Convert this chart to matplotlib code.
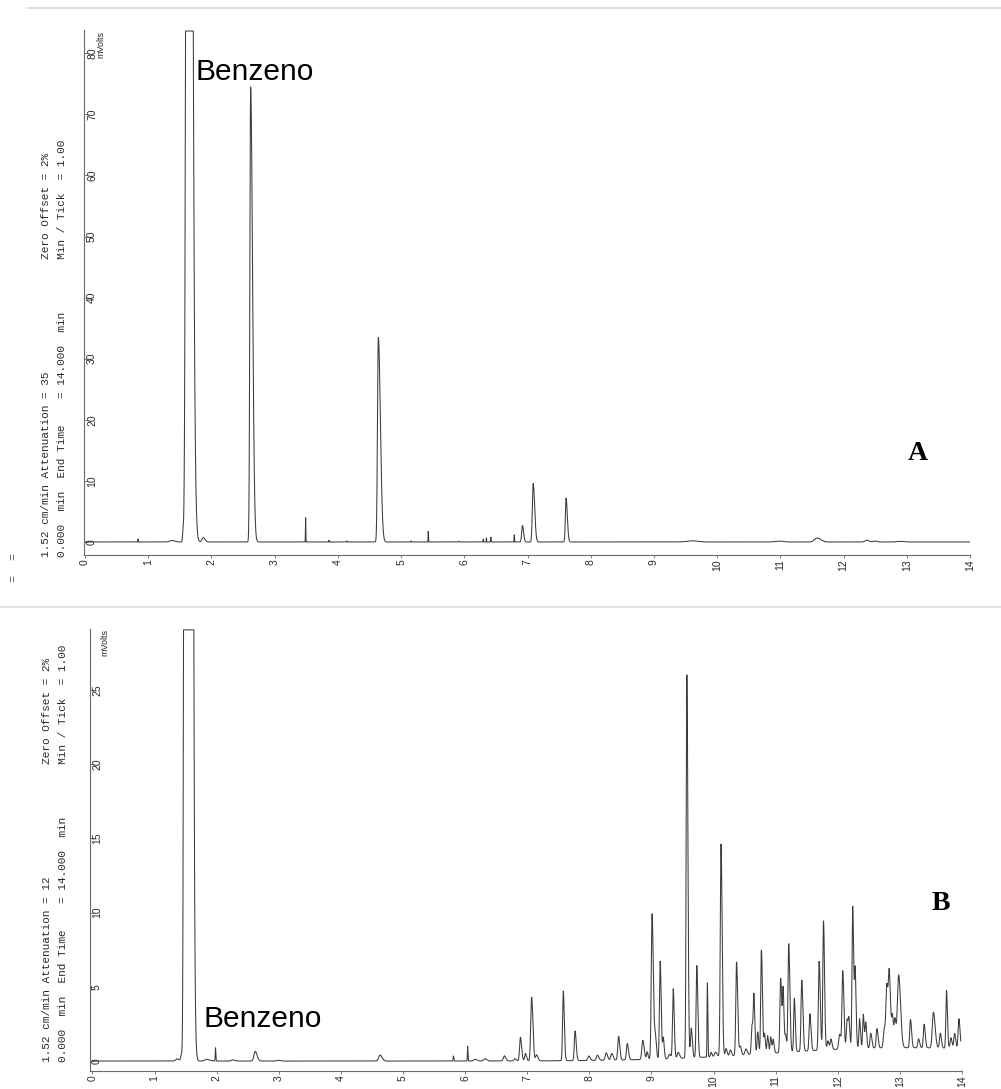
import numpy as np
import matplotlib
matplotlib.use("Agg")
import matplotlib.pyplot as plt
from matplotlib.lines import Line2D
from matplotlib.transforms import blended_transform_factory

W, H = 1001, 1089

# ---------------- Chromatogram A (Attenuation = 35) ----------------
# retention time (min), apex height (mV), peak sigma (min), tailing factor
a_time   = [0.84, 1.38, 1.55, 1.63, 1.87, 2.62, 3.49, 3.86, 4.14, 4.64, 5.16, 5.43,
            5.92, 6.30, 6.35, 6.42, 6.79, 6.92, 7.09, 7.61, 9.60, 10.98, 11.58,
            12.37, 12.50, 12.90]
a_height = [0.5, 0.25, 1.4, 500.0, 0.7, 74.5, 4.0, 0.3, 0.2, 33.5, 0.2, 1.8,
            0.1, 0.5, 0.7, 0.8, 1.2, 2.7, 9.6, 7.2, 0.2, 0.15, 0.65,
            0.3, 0.15, 0.1]
a_sigma  = [0.003, 0.04, 0.008, 0.022, 0.02, 0.012, 0.003, 0.003, 0.003, 0.013, 0.003, 0.003,
            0.01, 0.003, 0.003, 0.003, 0.003, 0.012, 0.013, 0.011, 0.08, 0.06, 0.04,
            0.03, 0.03, 0.05]
a_tail   = [1.0, 1.0, 1.0, 2.0, 1.5, 2.5, 1.0, 1.0, 1.0, 2.5, 1.0, 1.0,
            1.0, 1.0, 1.0, 1.0, 1.0, 1.5, 1.8, 1.8, 1.0, 1.0, 1.5,
            1.0, 1.0, 1.0]
a_yticks = [0, 10, 20, 30, 40, 50, 60, 70, 80]

# ---------------- Chromatogram B (Attenuation = 12) ----------------
b_time = [1.36, 1.43, 1.52, 1.84, 1.98, 2.26, 2.62, 2.99, 4.63, 5.81, 6.04,
          6.16, 6.32, 6.63, 6.80, 6.89, 6.97, 7.07, 7.15, 7.58, 7.77, 7.99,
          8.13, 8.27, 8.36, 8.47, 8.61, 8.86, 8.93, 9.01, 9.06, 9.14, 9.19,
          9.29, 9.35, 9.43, 9.57, 9.64, 9.73, 9.90, 9.96, 10.03, 10.12, 10.20,
          10.27, 10.37, 10.43, 10.52, 10.62, 10.65, 10.71, 10.77, 10.82, 10.87,
          10.92, 10.96, 11.08, 11.12, 11.16, 11.21, 11.30, 11.42, 11.55, 11.70,
          11.77, 11.84, 11.89, 12.03, 12.08, 12.15, 12.18, 12.24, 12.28, 12.35,
          12.41, 12.45, 12.53, 12.63, 12.75, 12.79, 12.83, 12.88, 12.92, 12.98,
          13.17, 13.30, 13.39, 13.54, 13.65, 13.75, 13.82, 13.88, 13.95, 13.00]
b_height = [0.15, 0.35, 1500.0, 0.12, 0.9, 0.08, 0.65, 0.05, 0.4, 0.35, 1.0,
            0.12, 0.15, 0.35, 0.15, 1.6, 0.5, 4.3, 0.4, 4.7, 2.0, 0.3,
            0.35, 0.5, 0.45, 1.6, 1.1, 1.3, 0.5, 9.8, 1.6, 6.6, 1.4,
            0.3, 4.7, 0.4, 25.8, 2.0, 6.2, 5.0, 0.3, 0.3, 14.3, 0.5,
            0.4, 6.3, 0.6, 0.4, 2.0, 3.6, 1.5, 7.0, 1.3, 1.2,
            1.1, 0.9, 5.0, 4.0, 1.1, 7.3, 3.6, 4.8, 2.5, 6.0,
            8.7, 0.6, 0.7, 1.0, 5.2, 2.0, 1.6, 9.6, 5.0, 2.0,
            2.3, 1.7, 1.0, 1.3, 1.3, 4.0, 4.6, 2.0, 1.8, 4.9,
            1.9, 0.6, 1.6, 2.4, 1.0, 3.9, 0.7, 1.0, 2.0, 0.9]
b_sigma = [0.02, 0.012, 0.02, 0.03, 0.004, 0.02, 0.02, 0.02, 0.022, 0.004, 0.004,
           0.02, 0.02, 0.015, 0.015, 0.013, 0.012, 0.014, 0.015, 0.011, 0.012, 0.015,
           0.015, 0.015, 0.015, 0.013, 0.013, 0.015, 0.01, 0.013, 0.012, 0.011, 0.01,
           0.015, 0.011, 0.015, 0.011, 0.012, 0.011, 0.005, 0.01, 0.015, 0.012, 0.012,
           0.012, 0.012, 0.012, 0.015, 0.012, 0.01, 0.01, 0.011, 0.01, 0.01,
           0.01, 0.01, 0.012, 0.01, 0.01, 0.012, 0.01, 0.012, 0.012, 0.012,
           0.011, 0.012, 0.012, 0.015, 0.012, 0.012, 0.01, 0.011, 0.01, 0.01,
           0.01, 0.01, 0.012, 0.012, 0.015, 0.014, 0.014, 0.012, 0.012, 0.02,
           0.012, 0.012, 0.012, 0.018, 0.012, 0.01, 0.012, 0.012, 0.012, 2.0]
b_yticks = [0, 5, 10, 15, 20, 25]

x_ticks = list(range(15))
END_TIME = 14.0


def chromatogram(t, times, heights, sigmas, tails=None):
    """Sum of (optionally tailing) Gaussian peaks."""
    y = np.zeros_like(t)
    if tails is None:
        tails = [1.5] * len(times)
    for t0, h, s, k in zip(times, heights, sigmas, tails):
        sd = np.where(t < t0, s, s * k)
        y += h * np.exp(-0.5 * ((t - t0) / sd) ** 2)
    return y


def fx(px):
    return px / W


def fy(py):
    return 1 - py / H


fig = plt.figure(figsize=(W / 100, H / 100), dpi=100)
fig.patch.set_facecolor("white")

# faint scan borders
fig.add_artist(Line2D([fx(28), fx(1001)], [fy(8), fy(8)], color="#dcdcdc", lw=1.5))
fig.add_artist(Line2D([fx(0), fx(1001)], [fy(607), fy(607)], color="#e2e2e2", lw=1.5))

TRACE = "#3c3c3c"
AXC = "#6a6a6a"
TXT = "#2a2a2a"
MONO = "Liberation Mono"
SANS = "Liberation Sans"


def panel(box, xlim, ylim, times, heights, sigmas, tails, yticks, ylab_px,
          mv_px, header_x, header_y, attenuation, t_end):
    left, top, right, bottom = box
    ax = fig.add_axes([fx(left), fy(bottom), fx(right) - fx(left), (bottom - top) / H])
    ax.set_xlim(*xlim)
    ax.set_ylim(*ylim)
    for s in ("top", "right"):
        ax.spines[s].set_visible(False)
    for s in ("left", "bottom"):
        ax.spines[s].set_color(AXC)
        ax.spines[s].set_linewidth(0.8)

    t = np.linspace(0, t_end, 28001)
    y = chromatogram(t, times, heights, sigmas, tails)
    y = np.minimum(y, ylim[1] - 0.002 * (ylim[1] - ylim[0]))
    ax.plot(t, y, color=TRACE, lw=0.75, solid_joinstyle="miter")

    ax.set_xticks(x_ticks)
    ax.set_xticklabels([str(v) for v in x_ticks], rotation=90, fontsize=7.5,
                       family=SANS)
    ax.tick_params(axis="x", direction="out", length=2, width=0.6, pad=1, colors=AXC,
                   labelcolor=TXT)
    ax.set_yticks(yticks)
    ax.set_yticklabels([])
    ax.tick_params(axis="y", direction="in", length=3, width=0.6, colors=AXC)

    tr = blended_transform_factory(fig.transFigure, ax.transData)
    for v in yticks:
        ax.text(fx(ylab_px), v, str(v), transform=tr, rotation=90, fontsize=7.5,
                family=SANS, ha="center", va="center", color=TXT)
    fig.text(fx(mv_px[0]), fy(mv_px[1]), "mVolts", rotation=90, fontsize=6.5,
             family=SANS, ha="center", va="center", color=TXT)

    line1 = (f"1.52 cm/min Attenuation = {attenuation}" + " " * 17
             + "Zero Offset = 2%")
    line2 = ("0.000  min  End Time    = 14.000  min" + " " * 8
             + "Min / Tick  = 1.00")
    for xx, txt in zip(header_x, (line1, line2)):
        fig.text(fx(xx), fy(header_y), txt, rotation=90, rotation_mode="anchor",
                 ha="left", va="center", fontsize=8.05, family=MONO, color=TXT)
    return ax


ax_a = panel((84, 30, 970, 555), (-0.016, 14.0), (-2.13, 83.8),
             a_time, a_height, a_sigma, a_tail, a_yticks, 92, (101, 45),
             (46, 62), 557, 35, END_TIME)
ax_b = panel((90, 629, 962, 1071), (-0.04, 14.0), (-0.67, 29.09),
             b_time, b_height, b_sigma, [2.0 if h > 100 else 1.5 for h in b_height],
             b_yticks, 97, (105, 643), (47, 63), 1062, 12, 13.98)

# stray printer marks at the far left of panel A
for yy in (557, 578):
    fig.text(fx(13), fy(yy), "=", rotation=90, ha="center", va="center",
             fontsize=8.5, family=MONO, color="#555555")

# annotations
fig.text(fx(196), fy(80), "Benzeno", fontsize=21.5, family=SANS, ha="left",
         va="baseline", color="black")
fig.text(fx(204), fy(1027), "Benzeno", fontsize=21.5, family=SANS, ha="left",
         va="baseline", color="black")
fig.text(fx(918), fy(453), "A", fontsize=20, family="Liberation Serif",
         weight="bold", ha="center", va="center", color="black")
fig.text(fx(941), fy(904), "B", fontsize=20, family="Liberation Serif",
         weight="bold", ha="center", va="center", color="black")

fig.savefig("out.png", dpi=100, facecolor="white")
